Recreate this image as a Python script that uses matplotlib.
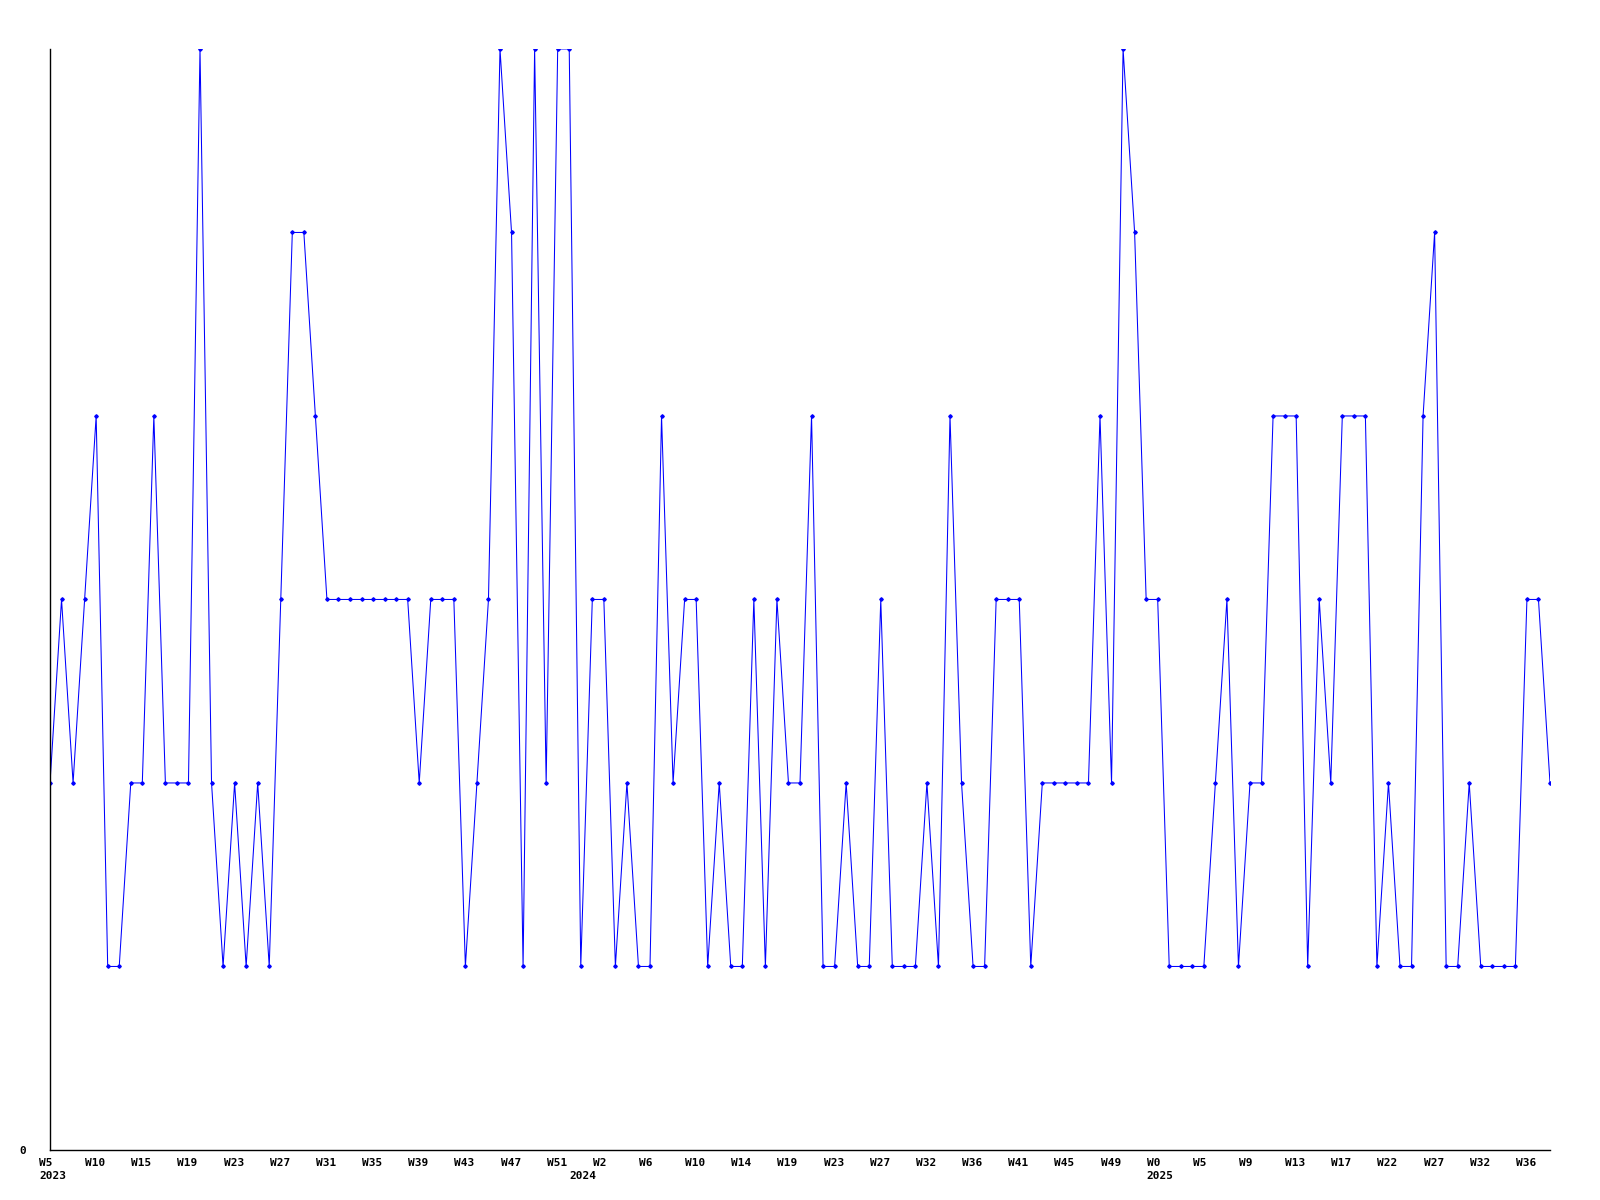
import matplotlib
matplotlib.use("Agg")
import matplotlib.pyplot as plt
import matplotlib.transforms as mtransforms

# weekly values, 131 points (W5 2023 .. ~W38 2025)
valores = [
    2, 3, 2, 3, 4, 1, 1, 2, 2, 4,
    2, 2, 2, 6, 2, 1, 2, 1, 2, 1,
    3, 5, 5, 4, 3, 3, 3, 3, 3, 3,
    3, 3, 2, 3, 3, 3, 1, 2, 3, 6,
    5, 1, 6, 2, 6, 6, 1, 3, 3, 1,
    2, 1, 1, 4, 2, 3, 3, 1, 2, 1,
    1, 3, 1, 3, 2, 2, 4, 1, 1, 2,
    1, 1, 3, 1, 1, 1, 2, 1, 4, 2,
    1, 1, 3, 3, 3, 1, 2, 2, 2, 2,
    2, 4, 2, 6, 5, 3, 3, 1, 1, 1,
    1, 2, 3, 1, 2, 2, 4, 4, 4, 1,
    3, 2, 4, 4, 4, 1, 2, 1, 1, 4,
    5, 1, 1, 2, 1, 1, 1, 1, 3, 3,
    2,
]

# etiquetas del eje x (una cada 4 puntos)
semanas = ["W5", "W10", "W15", "W19", "W23", "W27", "W31", "W35", "W39",
           "W43", "W47", "W51", "W2", "W6", "W10", "W14", "W19", "W23",
           "W27", "W32", "W36", "W41", "W45", "W49", "W0", "W5", "W9",
           "W13", "W17", "W22", "W27", "W32", "W36"]
anios = ["2023", "2024", "2025"]
pos_anios = [0, 46, 96]

x = list(range(len(valores)))
ticks = list(range(0, 4 * len(semanas), 4))

fuente = {"family": "DejaVu Sans Mono", "weight": "bold", "size": 8}

fig = plt.figure(figsize=(16, 12), dpi=100)
ax = fig.add_axes([0.03125, 0.0417, 0.9375, 0.9175])

ax.plot(x, valores, color="#0000ff", linewidth=0.75, marker="D",
        markersize=1.8, markerfacecolor="#0000ff", markeredgecolor="#0000ff")

ax.set_xlim(0, len(valores) - 1)
ax.set_ylim(0, 6)

ax.spines["top"].set_visible(False)
ax.spines["right"].set_visible(False)
ax.spines["left"].set_linewidth(1)
ax.spines["bottom"].set_linewidth(1)

ax.set_yticks([0])
ax.set_yticklabels(["0"], fontdict=fuente)
ax.tick_params(axis="y", length=0, pad=17)

ax.set_xticks(ticks)
ax.set_xticklabels(semanas, fontdict=fuente, ha="left")
ax.tick_params(axis="x", length=0, pad=6)
desplazamiento = mtransforms.ScaledTranslation(-11 / 100, 0, fig.dpi_scale_trans)
for etiqueta in ax.get_xticklabels():
    etiqueta.set_transform(etiqueta.get_transform() + desplazamiento)

trans = mtransforms.blended_transform_factory(ax.transData, ax.transAxes) + desplazamiento
for anio, p in zip(anios, pos_anios):
    ax.text(p, -0.019, anio, transform=trans, ha="left", va="top", fontdict=fuente)

fig.savefig("out.png", dpi=100)
plt.close(fig)
